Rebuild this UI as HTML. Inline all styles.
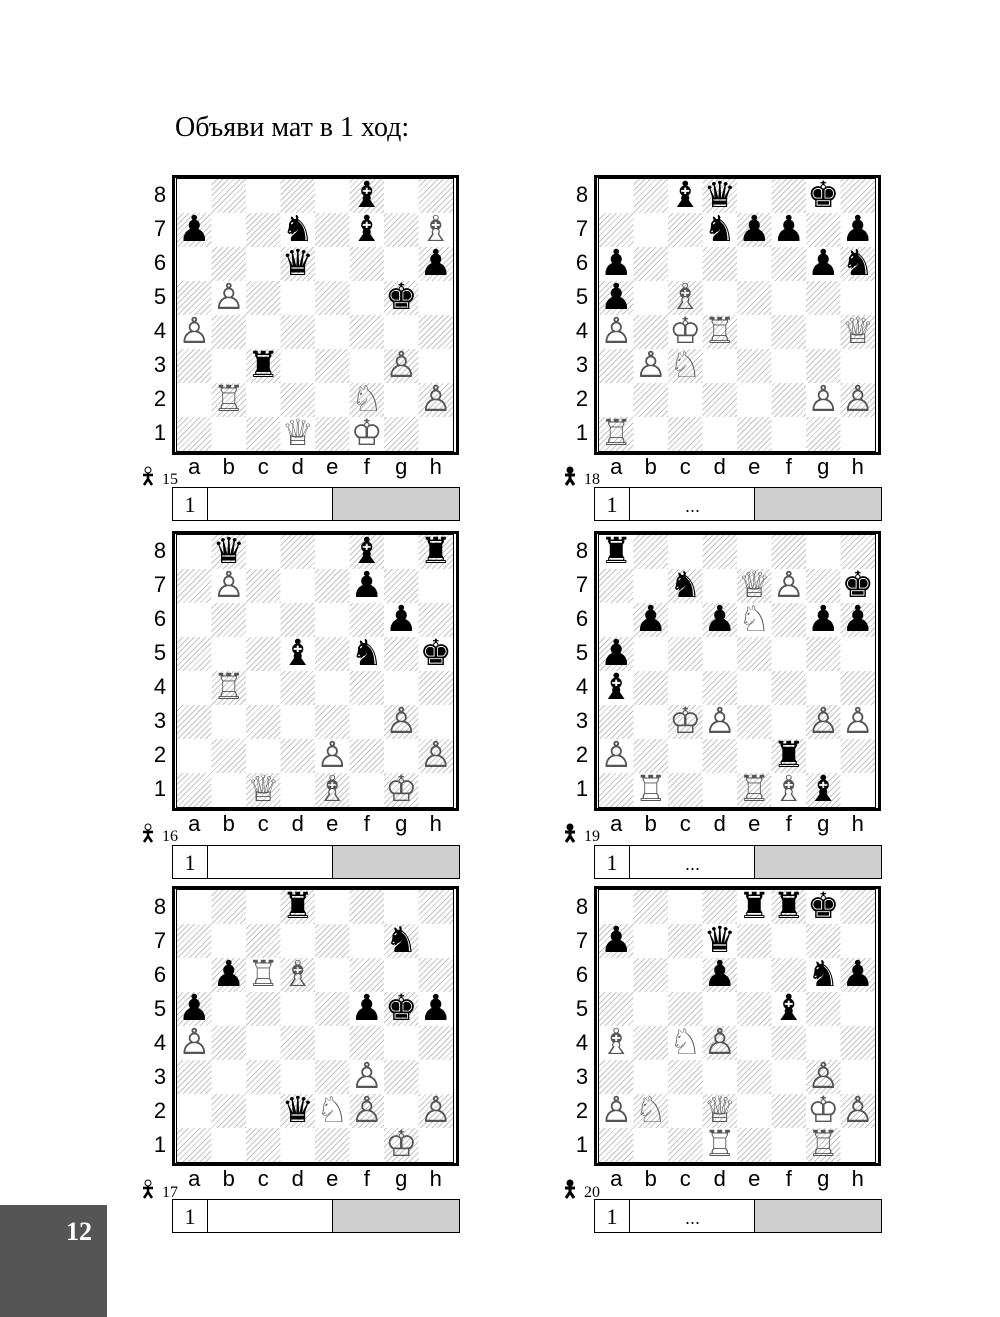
<!DOCTYPE html>
<html><head><meta charset="utf-8"><style>
body{margin:0;background:#fff;}
#pg{position:relative;width:1000px;height:1317px;overflow:hidden;background:#fff;font-family:"Liberation Sans",sans-serif;}
.title{position:absolute;left:175px;top:112px;font-family:"Liberation Serif","DejaVu Serif",serif;font-size:28px;}
.bd{position:absolute;width:281px;height:274px;border:3px solid #000;}
.sq{position:absolute;left:2px;top:1px;width:276px;height:272px;outline:1px solid #000;
background:conic-gradient(transparent 0 25%,#fff 0 50%,transparent 0 75%,#fff 0) 0 0/69px 68px,
repeating-linear-gradient(135deg,#c4c4c4 0 1px,#fff 1px 4px);}
.sq i{position:absolute;width:34.5px;height:34px;line-height:34px;text-align:center;font-style:normal;font-size:36px;font-family:"DejaVu Sans",sans-serif;}
.w{color:#555}.b{color:#000}
.rk{position:absolute;width:20px;text-align:center;font-size:22px;}
.fl{position:absolute;top:0;width:34.5px;text-align:center;font-size:22px;}
.num{position:absolute;font-family:"Liberation Serif",serif;font-size:16px;}
.ans{position:absolute;height:32px;border:1px solid #000;width:286px;}
.ans .c1{position:absolute;left:0;top:0;width:34px;height:32px;border-right:1px solid #000;font-family:"Liberation Serif",serif;font-size:22px;text-align:center;line-height:33px;}
.ans .g{position:absolute;right:0;top:0;width:126px;height:32px;background:#cfcfcf;border-left:1px solid #000;}
.ans .d{position:absolute;left:35px;width:125px;top:0;text-align:center;font-size:18px;line-height:36px;}
.pn{position:absolute;left:0;top:1205px;width:107px;height:112px;background:#555;}
.pn span{position:absolute;left:66px;top:12px;color:#fff;font-family:"Liberation Serif",serif;font-weight:bold;font-size:26px;}
</style></head><body><div id="pg">
<div class="title">Объяви мат в 1 ход:</div>

<div style="position:absolute;left:150px;top:182px">
<div class="rk" style="top:0">8</div><div class="rk" style="top:34px">7</div><div class="rk" style="top:68px">6</div><div class="rk" style="top:102px">5</div><div class="rk" style="top:136px">4</div><div class="rk" style="top:170px">3</div><div class="rk" style="top:204px">2</div><div class="rk" style="top:238px">1</div></div>
<div style="position:absolute;left:572px;top:182px">
<div class="rk" style="top:0">8</div><div class="rk" style="top:34px">7</div><div class="rk" style="top:68px">6</div><div class="rk" style="top:102px">5</div><div class="rk" style="top:136px">4</div><div class="rk" style="top:170px">3</div><div class="rk" style="top:204px">2</div><div class="rk" style="top:238px">1</div></div>
<div style="position:absolute;left:150px;top:538px">
<div class="rk" style="top:0">8</div><div class="rk" style="top:34px">7</div><div class="rk" style="top:68px">6</div><div class="rk" style="top:102px">5</div><div class="rk" style="top:136px">4</div><div class="rk" style="top:170px">3</div><div class="rk" style="top:204px">2</div><div class="rk" style="top:238px">1</div></div>
<div style="position:absolute;left:572px;top:538px">
<div class="rk" style="top:0">8</div><div class="rk" style="top:34px">7</div><div class="rk" style="top:68px">6</div><div class="rk" style="top:102px">5</div><div class="rk" style="top:136px">4</div><div class="rk" style="top:170px">3</div><div class="rk" style="top:204px">2</div><div class="rk" style="top:238px">1</div></div>
<div style="position:absolute;left:150px;top:894px">
<div class="rk" style="top:0">8</div><div class="rk" style="top:34px">7</div><div class="rk" style="top:68px">6</div><div class="rk" style="top:102px">5</div><div class="rk" style="top:136px">4</div><div class="rk" style="top:170px">3</div><div class="rk" style="top:204px">2</div><div class="rk" style="top:238px">1</div></div>
<div style="position:absolute;left:572px;top:894px">
<div class="rk" style="top:0">8</div><div class="rk" style="top:34px">7</div><div class="rk" style="top:68px">6</div><div class="rk" style="top:102px">5</div><div class="rk" style="top:136px">4</div><div class="rk" style="top:170px">3</div><div class="rk" style="top:204px">2</div><div class="rk" style="top:238px">1</div></div>

<div style="position:absolute;left:177px;top:454px"><div class="fl" style="left:0">a</div><div class="fl" style="left:34.5px">b</div><div class="fl" style="left:69px">c</div><div class="fl" style="left:103.5px">d</div><div class="fl" style="left:138px">e</div><div class="fl" style="left:172.5px">f</div><div class="fl" style="left:207px">g</div><div class="fl" style="left:241.5px">h</div></div>
<div style="position:absolute;left:599px;top:454px"><div class="fl" style="left:0">a</div><div class="fl" style="left:34.5px">b</div><div class="fl" style="left:69px">c</div><div class="fl" style="left:103.5px">d</div><div class="fl" style="left:138px">e</div><div class="fl" style="left:172.5px">f</div><div class="fl" style="left:207px">g</div><div class="fl" style="left:241.5px">h</div></div>
<div style="position:absolute;left:177px;top:811px"><div class="fl" style="left:0">a</div><div class="fl" style="left:34.5px">b</div><div class="fl" style="left:69px">c</div><div class="fl" style="left:103.5px">d</div><div class="fl" style="left:138px">e</div><div class="fl" style="left:172.5px">f</div><div class="fl" style="left:207px">g</div><div class="fl" style="left:241.5px">h</div></div>
<div style="position:absolute;left:599px;top:811px"><div class="fl" style="left:0">a</div><div class="fl" style="left:34.5px">b</div><div class="fl" style="left:69px">c</div><div class="fl" style="left:103.5px">d</div><div class="fl" style="left:138px">e</div><div class="fl" style="left:172.5px">f</div><div class="fl" style="left:207px">g</div><div class="fl" style="left:241.5px">h</div></div>
<div style="position:absolute;left:177px;top:1166px"><div class="fl" style="left:0">a</div><div class="fl" style="left:34.5px">b</div><div class="fl" style="left:69px">c</div><div class="fl" style="left:103.5px">d</div><div class="fl" style="left:138px">e</div><div class="fl" style="left:172.5px">f</div><div class="fl" style="left:207px">g</div><div class="fl" style="left:241.5px">h</div></div>
<div style="position:absolute;left:599px;top:1166px"><div class="fl" style="left:0">a</div><div class="fl" style="left:34.5px">b</div><div class="fl" style="left:69px">c</div><div class="fl" style="left:103.5px">d</div><div class="fl" style="left:138px">e</div><div class="fl" style="left:172.5px">f</div><div class="fl" style="left:207px">g</div><div class="fl" style="left:241.5px">h</div></div>

<svg style="position:absolute;left:140px;top:466px" width="16" height="20" viewBox="0 0 16 20"><circle cx="8" cy="4" r="3" fill="#fff" stroke="#000"/><path d="M8 7 L8 13 M3 9 L13 9 M8 13 L4 19 M8 13 L12 19" stroke="#000" stroke-width="2.5" fill="none"/></svg>
<div class="num" style="left:162px;top:471px">15</div>
<svg style="position:absolute;left:140px;top:823px" width="16" height="20" viewBox="0 0 16 20"><circle cx="8" cy="4" r="3" fill="#fff" stroke="#000"/><path d="M8 7 L8 13 M3 9 L13 9 M8 13 L4 19 M8 13 L12 19" stroke="#000" stroke-width="2.5" fill="none"/></svg>
<div class="num" style="left:162px;top:828px">16</div>
<svg style="position:absolute;left:140px;top:1179px" width="16" height="20" viewBox="0 0 16 20"><circle cx="8" cy="4" r="3" fill="#fff" stroke="#000"/><path d="M8 7 L8 13 M3 9 L13 9 M8 13 L4 19 M8 13 L12 19" stroke="#000" stroke-width="2.5" fill="none"/></svg>
<div class="num" style="left:162px;top:1184px">17</div>
<svg style="position:absolute;left:562px;top:466px" width="16" height="20" viewBox="0 0 16 20"><circle cx="8" cy="4" r="3.5" fill="#000"/><path d="M8 7 L8 13 M3 9 L13 9 M8 13 L4 19 M8 13 L12 19" stroke="#000" stroke-width="3" fill="none"/></svg>
<div class="num" style="left:584px;top:471px">18</div>
<svg style="position:absolute;left:562px;top:823px" width="16" height="20" viewBox="0 0 16 20"><circle cx="8" cy="4" r="3.5" fill="#000"/><path d="M8 7 L8 13 M3 9 L13 9 M8 13 L4 19 M8 13 L12 19" stroke="#000" stroke-width="3" fill="none"/></svg>
<div class="num" style="left:584px;top:828px">19</div>
<svg style="position:absolute;left:562px;top:1179px" width="16" height="20" viewBox="0 0 16 20"><circle cx="8" cy="4" r="3.5" fill="#000"/><path d="M8 7 L8 13 M3 9 L13 9 M8 13 L4 19 M8 13 L12 19" stroke="#000" stroke-width="3" fill="none"/></svg>
<div class="num" style="left:584px;top:1184px">20</div>

<div class="ans" style="left:172px;top:487px"><div class="c1">1</div><div class="g"></div></div>
<div class="ans" style="left:172px;top:845px"><div class="c1">1</div><div class="g"></div></div>
<div class="ans" style="left:172px;top:1199px"><div class="c1">1</div><div class="g"></div></div>
<div class="ans" style="left:594px;top:487px"><div class="c1">1</div><div class="d">...</div><div class="g"></div></div>
<div class="ans" style="left:594px;top:845px"><div class="c1">1</div><div class="d">...</div><div class="g"></div></div>
<div class="ans" style="left:594px;top:1199px"><div class="c1">1</div><div class="d">...</div><div class="g"></div></div>

<div class="bd" style="left:172px;top:175px"><div class="sq">
<i class="b" style="left:172.5px;top:0">♝</i>
<i class="b" style="left:172.5px;top:34px">♝</i>
<i class="b" style="left:103.5px;top:34px">♞</i>
<i class="b" style="left:0;top:34px">♟</i>
<i class="w" style="left:241.5px;top:34px">♗</i>
<i class="b" style="left:103.5px;top:68px">♛</i>
<i class="b" style="left:241.5px;top:68px">♟</i>
<i class="w" style="left:34.5px;top:102px">♙</i>
<i class="b" style="left:207px;top:102px">♚</i>
<i class="w" style="left:0;top:136px">♙</i>
<i class="b" style="left:69px;top:170px">♜</i>
<i class="w" style="left:207px;top:170px">♙</i>
<i class="w" style="left:34.5px;top:204px">♖</i>
<i class="w" style="left:172.5px;top:204px">♘</i>
<i class="w" style="left:241.5px;top:204px">♙</i>
<i class="w" style="left:103.5px;top:238px">♕</i>
<i class="w" style="left:172.5px;top:238px">♔</i>
</div></div>

<div class="bd" style="left:594px;top:175px"><div class="sq">
<i class="b" style="left:69px;top:0">♝</i>
<i class="b" style="left:103.5px;top:0">♛</i>
<i class="b" style="left:207px;top:0">♚</i>
<i class="b" style="left:103.5px;top:34px">♞</i>
<i class="b" style="left:138px;top:34px">♟</i>
<i class="b" style="left:172.5px;top:34px">♟</i>
<i class="b" style="left:241.5px;top:34px">♟</i>
<i class="b" style="left:0;top:68px">♟</i>
<i class="b" style="left:207px;top:68px">♟</i>
<i class="b" style="left:241.5px;top:68px">♞</i>
<i class="b" style="left:0;top:102px">♟</i>
<i class="w" style="left:69px;top:102px">♗</i>
<i class="w" style="left:0;top:136px">♙</i>
<i class="w" style="left:69px;top:136px">♔</i>
<i class="w" style="left:103.5px;top:136px">♖</i>
<i class="w" style="left:241.5px;top:136px">♕</i>
<i class="w" style="left:34.5px;top:170px">♙</i>
<i class="w" style="left:69px;top:170px">♘</i>
<i class="w" style="left:207px;top:204px">♙</i>
<i class="w" style="left:241.5px;top:204px">♙</i>
<i class="w" style="left:0;top:238px">♖</i>
</div></div>

<div class="bd" style="left:172px;top:531px"><div class="sq">
<i class="b" style="left:34.5px;top:0">♛</i>
<i class="b" style="left:172.5px;top:0">♝</i>
<i class="b" style="left:241.5px;top:0">♜</i>
<i class="w" style="left:34.5px;top:34px">♙</i>
<i class="b" style="left:172.5px;top:34px">♟</i>
<i class="b" style="left:207px;top:68px">♟</i>
<i class="b" style="left:103.5px;top:102px">♝</i>
<i class="b" style="left:172.5px;top:102px">♞</i>
<i class="b" style="left:241.5px;top:102px">♚</i>
<i class="w" style="left:34.5px;top:136px">♖</i>
<i class="w" style="left:207px;top:170px">♙</i>
<i class="w" style="left:138px;top:204px">♙</i>
<i class="w" style="left:241.5px;top:204px">♙</i>
<i class="w" style="left:69px;top:238px">♕</i>
<i class="w" style="left:138px;top:238px">♗</i>
<i class="w" style="left:207px;top:238px">♔</i>
</div></div>

<div class="bd" style="left:594px;top:531px"><div class="sq">
<i class="b" style="left:0;top:0">♜</i>
<i class="b" style="left:69px;top:34px">♞</i>
<i class="w" style="left:138px;top:34px">♕</i>
<i class="w" style="left:172.5px;top:34px">♙</i>
<i class="b" style="left:241.5px;top:34px">♚</i>
<i class="b" style="left:34.5px;top:68px">♟</i>
<i class="b" style="left:103.5px;top:68px">♟</i>
<i class="w" style="left:138px;top:68px">♘</i>
<i class="b" style="left:207px;top:68px">♟</i>
<i class="b" style="left:241.5px;top:68px">♟</i>
<i class="b" style="left:0;top:102px">♟</i>
<i class="b" style="left:0;top:136px">♝</i>
<i class="w" style="left:69px;top:170px">♔</i>
<i class="w" style="left:103.5px;top:170px">♙</i>
<i class="w" style="left:207px;top:170px">♙</i>
<i class="w" style="left:241.5px;top:170px">♙</i>
<i class="w" style="left:0;top:204px">♙</i>
<i class="b" style="left:172.5px;top:204px">♜</i>
<i class="w" style="left:34.5px;top:238px">♖</i>
<i class="w" style="left:138px;top:238px">♖</i>
<i class="w" style="left:172.5px;top:238px">♗</i>
<i class="b" style="left:207px;top:238px">♝</i>
</div></div>

<div class="bd" style="left:172px;top:886px"><div class="sq">
<i class="b" style="left:103.5px;top:0">♜</i>
<i class="b" style="left:207px;top:34px">♞</i>
<i class="b" style="left:34.5px;top:68px">♟</i>
<i class="w" style="left:69px;top:68px">♖</i>
<i class="w" style="left:103.5px;top:68px">♗</i>
<i class="b" style="left:0;top:102px">♟</i>
<i class="b" style="left:172.5px;top:102px">♟</i>
<i class="b" style="left:207px;top:102px">♚</i>
<i class="b" style="left:241.5px;top:102px">♟</i>
<i class="w" style="left:0;top:136px">♙</i>
<i class="w" style="left:172.5px;top:170px">♙</i>
<i class="b" style="left:103.5px;top:204px">♛</i>
<i class="w" style="left:138px;top:204px">♘</i>
<i class="w" style="left:172.5px;top:204px">♙</i>
<i class="w" style="left:241.5px;top:204px">♙</i>
<i class="w" style="left:207px;top:238px">♔</i>
</div></div>

<div class="bd" style="left:594px;top:886px"><div class="sq">
<i class="b" style="left:138px;top:0">♜</i>
<i class="b" style="left:172.5px;top:0">♜</i>
<i class="b" style="left:207px;top:0">♚</i>
<i class="b" style="left:0;top:34px">♟</i>
<i class="b" style="left:103.5px;top:34px">♛</i>
<i class="b" style="left:103.5px;top:68px">♟</i>
<i class="b" style="left:207px;top:68px">♞</i>
<i class="b" style="left:241.5px;top:68px">♟</i>
<i class="b" style="left:172.5px;top:102px">♝</i>
<i class="w" style="left:0;top:136px">♗</i>
<i class="w" style="left:69px;top:136px">♘</i>
<i class="w" style="left:103.5px;top:136px">♙</i>
<i class="w" style="left:207px;top:170px">♙</i>
<i class="w" style="left:0;top:204px">♙</i>
<i class="w" style="left:34.5px;top:204px">♘</i>
<i class="w" style="left:103.5px;top:204px">♕</i>
<i class="w" style="left:207px;top:204px">♔</i>
<i class="w" style="left:241.5px;top:204px">♙</i>
<i class="w" style="left:103.5px;top:238px">♖</i>
<i class="w" style="left:207px;top:238px">♖</i>
</div></div>

<div class="pn"><span>12</span></div>
</div></body></html>
